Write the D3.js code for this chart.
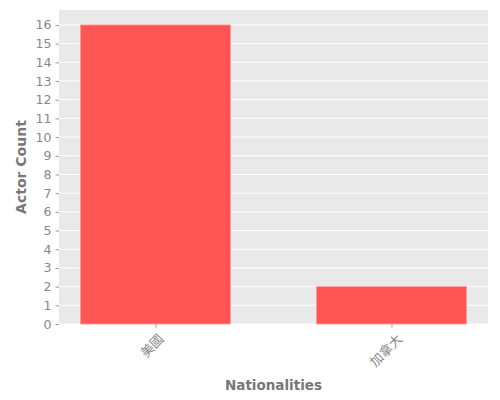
<!DOCTYPE html>
<html>
<head>
<meta charset="utf-8">
<script src="https://cdn.jsdelivr.net/npm/d3@7"></script>
<style>
  body { margin: 0; background: #fff; }
  text { font-family: "DejaVu Sans", sans-serif; }
</style>
</head>
<body>
<div id="chart"></div>
<script>
var nationalities = ["美國", "加拿大"];
var actorCounts = [16, 2];
var yTicks = d3.range(0, 17);

var width = 500;
var height = 400;
var margin = { top: 10, right: 12, bottom: 76, left: 59 };

var svg = d3
  .select("#chart")
  .append("svg")
  .attr("width", width)
  .attr("height", height);

var x = d3
  .scalePoint()
  .domain(nationalities)
  .range([margin.left, width - margin.right])
  .padding(0.409);

var y = d3
  .scaleLinear()
  .domain([0, 16.8])
  .range([height - margin.bottom, margin.top]);

var barWidth = x.step() * 0.636;

// panel background
svg
  .append("rect")
  .attr("x", margin.left)
  .attr("y", margin.top)
  .attr("width", width - margin.left - margin.right)
  .attr("height", height - margin.top - margin.bottom)
  .attr("fill", "#e9e9e9");

// grid lines
svg
  .append("g")
  .selectAll("line")
  .data(yTicks)
  .enter()
  .append("line")
  .attr("x1", margin.left)
  .attr("x2", width - margin.right)
  .attr("y1", function (d) { return y(d); })
  .attr("y2", function (d) { return y(d); })
  .attr("stroke", "#fff")
  .attr("stroke-width", 1);

// bars
svg
  .append("g")
  .selectAll("rect")
  .data(nationalities)
  .enter()
  .append("rect")
  .attr("x", function (d) { return x(d) - barWidth / 2; })
  .attr("y", function (d, i) { return y(actorCounts[i]); })
  .attr("width", barWidth)
  .attr("height", function (d, i) { return y(0) - y(actorCounts[i]); })
  .attr("fill", "#ff5555")
  .attr("stroke", "#ff9a9a")
  .attr("stroke-width", 0.8);

// y axis
var yAxis = svg
  .append("g")
  .attr("transform", "translate(" + margin.left + ",0)")
  .call(d3.axisLeft(y).tickValues(yTicks).tickSize(3.5).tickPadding(4));
yAxis.select(".domain").remove();
yAxis.selectAll(".tick line").attr("stroke", "#999");
yAxis
  .selectAll(".tick text")
  .attr("fill", "#888")
  .style("font-size", "12.6px");

// x axis
var xAxis = svg
  .append("g")
  .attr("transform", "translate(0," + (height - margin.bottom) + ")")
  .call(d3.axisBottom(x).tickSize(3.5).tickPadding(4));
xAxis.select(".domain").remove();
xAxis.selectAll(".tick line").attr("stroke", "#999");
xAxis
  .selectAll(".tick text")
  .attr("fill", "#888")
  .style("font-size", "13px")
  .style("font-family", '"Noto Sans CJK TC", sans-serif')
  .attr("text-anchor", "middle")
  .attr("dy", "0.35em")
  .attr("transform", function () {
    // rotated 45°, box hanging below the tick
    var len = this.getComputedTextLength();
    var half = (len * Math.SQRT1_2 + 13 * Math.SQRT1_2) / 2;
    return "translate(" + (-0.15 * len) + "," + (11 + half - 3) + ") rotate(-45)";
  })
  .attr("y", 0);

// axis titles
svg
  .append("text")
  .attr("x", (margin.left + width - margin.right) / 2)
  .attr("y", 390)
  .attr("text-anchor", "middle")
  .attr("fill", "#777")
  .style("font-size", "13.5px")
  .style("font-weight", "bold")
  .text("Nationalities");

svg
  .append("text")
  .attr("transform", "translate(26," + (margin.top + (height - margin.top - margin.bottom) / 2) + ") rotate(-90)")
  .attr("text-anchor", "middle")
  .attr("fill", "#777")
  .style("font-size", "14px")
  .style("font-weight", "bold")
  .text("Actor Count");
</script>
</body>
</html>
